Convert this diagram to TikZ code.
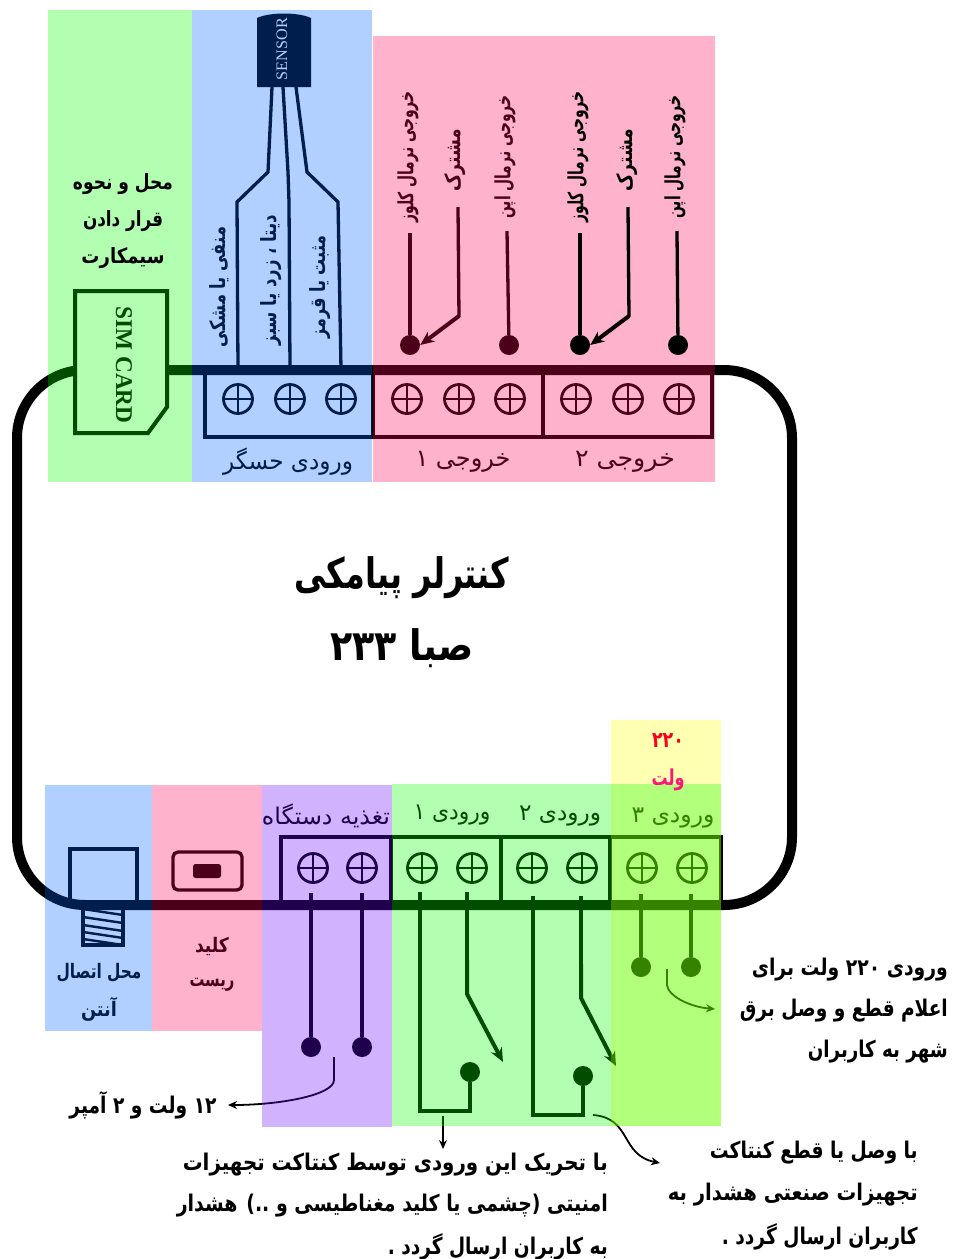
\documentclass[tikz,border=0pt]{standalone}
\usepackage{fontspec}
\usepackage{graphicx}
\usetikzlibrary{arrows.meta}
\TeXXeTstate=1
\newfontfamily\fab[Script=Arabic,BoldFont={DejaVu Sans Bold}]{DejaVu Sans}
\newfontfamily\serifb{Liberation Serif}
\newcommand{\fw}[3]{\resizebox{#1pt}{\height}{\fontsize{#2}{#2}\selectfont\fab\bfseries #3}}
\newcommand{\fr}[3]{\resizebox{#1pt}{\height}{\fontsize{#2}{#2}\selectfont\fab #3}}
\definecolor{ovgreen}{RGB}{0,255,0}
\definecolor{ovblue}{RGB}{0,100,255}
\definecolor{ovpink}{RGB}{255,0,87}
\definecolor{ovpurple}{RGB}{100,0,255}
\definecolor{ovyellow}{RGB}{255,255,0}
\tikzset{
  screw/.style={circle,draw,line width=2.8pt,minimum size=29pt,inner sep=0pt,
    path picture={\draw[line width=2.8pt] (path picture bounding box.north)--(path picture bounding box.south)
      (path picture bounding box.west)--(path picture bounding box.east);}},
  dotn/.style={circle,fill=black,minimum size=20pt,inner sep=0pt},
  wire/.style={line width=3.3pt},
  thick wire/.style={line width=4pt},
  block/.style={draw,line width=3.6pt},
  lab/.style={inner sep=0pt},
  pan/.style={fill opacity=0.3,draw=none},
  tip/.style={-{Stealth[length=14pt,width=12pt]},line width=4pt},
  note/.style={-{Stealth[length=9pt,width=8pt]},line width=1.8pt}
}
\begin{document}
\begin{tikzpicture}[x=1pt,y=-1pt]
\useasboundingbox (0,0) rectangle (954,1259);
\fill[white] (0,0) rectangle (954,1259);
% controller body
\draw[line width=10pt,rounded corners=68pt] (17,370) rectangle (792,905);
% SIM card
\draw[line width=4pt,draw=black,fill=white] (75,291) -- (167,291) -- (167,407) -- (148,433) -- (75,433) -- cycle;
\node[lab,rotate=-90,font=\serifb\bfseries\fontsize{24}{24}\selectfont] (simlbl) at (124,365) {\resizebox{117pt}{\height}{SIM CARD}};
% sensor
\fill (257,87) -- (257,18) .. controls (270,12) and (298,12) .. (311,18) -- (311,87) -- cycle;
\node[lab,rotate=90,white,font=\serifb\fontsize{16}{16}\selectfont] (senlbl) at (282,49) {\resizebox{62pt}{\height}{SENSOR}};
\coordinate (sa) at (272,87); \coordinate (sb) at (283,87); \coordinate (sc) at (296,87);
% terminal blocks
\draw[block] (205,370) rectangle (373,437);
\draw[block] (373,370) rectangle (543,437);
\draw[block] (543,370) rectangle (712,437);
\draw[block] (281,837) rectangle (391,905);
\draw[block] (391,837) rectangle (501,905);
\draw[block] (501,837) rectangle (610,905);
\draw[block] (610,837) rectangle (721,905);
% screws
\foreach \n/\x in {sn1/238,sn2/290,sn3/341,oa1/407,oa2/459,oa3/510,ob1/576,ob2/628,ob3/679}
  \node[screw] (\n) at (\x,399) {};
\foreach \n/\x in {p1/313,p2/362,ia1/422,ia2/472,ib1/532,ib2/582,ic1/642,ic2/692}
  \node[screw] (\n) at (\x,868) {};
% sensor wires
\coordinate (ta) at (238,369); \coordinate (tb) at (290,369); \coordinate (tc) at (341,369);
\draw[wire] (sa) -- (268,172) -- (237,202) -- (ta);
\draw[wire] (sb) -- (288,172) -- (289,202) -- (tb);
\draw[wire] (sc) -- (307,172) -- (338,202) -- (tc);
% output 1 dots and wires
\foreach \n/\x in {da1/410,da3/509}
  \node[dotn] (\n) at (\x,345) {};
\coordinate (ea1) at (410,233); \coordinate (ea3) at (507,231);
\draw[wire] (ea1) -- (da1); \draw[wire] (ea3) -- (da3);
\coordinate (ca) at (458,207);
\draw[wire] (ca) -- (459,317);
\draw[tip] (459,316) -- (da1.east);
% antenna
\draw[line width=3.3pt] (70,905) -- (70,849) -- (137,849) -- (137,905);
\draw[line width=3.3pt] (83,905) rectangle (123,945);
\foreach \y in {909,917,925,932,939} \draw[line width=2.4pt] (83,\y) -- (123,\y+6);
% reset key
\draw[line width=3.3pt,rounded corners=5pt] (173,852) rectangle (242,890);
\fill[rounded corners=2.5pt] (193,864) rectangle (221,878);
% power wires
\node[dotn] (dp1) at (311,1047) {};
\node[dotn] (dp2) at (362,1047) {};
\coordinate (tp1) at (311,893); \coordinate (tp2) at (362,893);
\draw[thick wire] (tp1) -- (dp1);
\draw[thick wire] (tp2) -- (dp2);
% input 1
\node[dotn] (di1) at (470,1072) {};
\coordinate (ti1) at (420,892); \coordinate (ti2) at (467,892); \coordinate (ar1) at (503,1062);
\draw[wire] (ti1) -- (420,1111) -- (470,1111) -- (di1);
\draw[wire] (ti2) -- (467,962);
\draw[tip] (467,960) -- (467,994) -- (ar1);
% input 2
\node[dotn] (di2) at (583,1076) {};
\coordinate (tj1) at (533,896); \coordinate (tj2) at (581,896); \coordinate (ar2) at (616,1066);
\draw[wire] (tj1) -- (533,1115) -- (583,1115) -- (di2);
\draw[wire] (tj2) -- (581,966);
\draw[tip] (581,964) -- (581,998) -- (ar2);
% input 3
\node[dotn] (dk1) at (641,967) {};
\node[dotn] (dk2) at (691,967) {};
\coordinate (tk1) at (641,894); \coordinate (tk2) at (691,894);
\draw[thick wire] (tk1) -- (dk1);
\draw[thick wire] (tk2) -- (dk2);
% callouts
\coordinate (n1a) at (334,1057); \coordinate (n1b) at (228,1105);
\draw[note] (n1a) -- (334,1080) .. controls (334,1095) and (280,1105) .. (n1b);
\coordinate (n2a) at (667,969); \coordinate (n2b) at (715,1009);
\draw[note] (n2a) -- (667,985) .. controls (668,996) and (690,1007) .. (n2b);
\coordinate (n3a) at (443,1116); \coordinate (n3b) at (443,1149);
\draw[note] (n3a) -- (n3b);
\coordinate (n4a) at (593,1115); \coordinate (n4b) at (660,1163);
\draw[note] (n4a) .. controls (632,1118) and (620,1155) .. (n4b);
% rotated labels
\node[lab,rotate=90] (l1) at (219,287) {\fw{120}{21}{\beginR منفی یا مشکی\endR}};
\node[lab,rotate=90] (l2) at (271,280) {\fw{130}{21}{\beginR دیتا ، زرد یا سبز\endR}};
\node[lab,rotate=90] (l3) at (320,287) {\fw{103}{21}{\beginR مثبت یا قرمز\endR}};
\node[lab,rotate=90] (l4) at (408,157) {\fw{131}{21}{\beginR خروجی نرمال کلوز\endR}};
\node[lab,rotate=90] (l5) at (455,160) {\fw{63}{21}{\beginR مشترک\endR}};
\node[lab,rotate=90] (l6) at (505,157) {\fw{123}{21}{\beginR خروجی نرمال اپن\endR}};
% horizontal labels
\node[lab] (t4) at (288,462) {\fr{130}{24}{\beginR ورودی حسگر\endR}};
\node[lab] (t5) at (463,462) {\fr{95}{24}{\beginR خروجی ۱\endR}};
\node[lab] (t6) at (625,462) {\fr{100}{24}{\beginR خروجی ۲\endR}};
\node[lab] (t7) at (402,578) {\fw{215}{42}{\beginR کنترلر پیامکی\endR}};
\node[lab] (t8) at (402,648) {\fw{143}{42}{\beginR صبا ۲۳۳\endR}};
\node[lab] (t9) at (99,973) {\fw{85}{20}{\beginR محل اتصال\endR}};
\node[lab] (t10) at (99,1009) {\fw{36}{20}{\beginR آنتن\endR}};
\node[lab] (t11) at (212,947) {\fw{34}{20}{\beginR کلید\endR}};
\node[lab] (t12) at (212,985) {\fw{45}{20}{\beginR ریست\endR}};
\node[lab] (t13) at (326,816) {\fr{128}{23}{\beginR تغذیه دستگاه\endR}};
\node[lab] (t14) at (452,815) {\fr{77}{23}{\beginR ورودی ۱\endR}};
\node[lab] (t15) at (560,816) {\fr{82}{23}{\beginR ورودی ۲\endR}};
\node[lab] (t16) at (673,818) {\fr{83}{23}{\beginR ورودی ۳\endR}};
\node[lab] (t17) at (143,1105) {\fw{147}{23}{\beginR ۱۲ ولت و ۲ آمپر\endR}};
\node[lab,anchor=east] (r1) at (948,970) {\fw{196}{23}{\beginR ورودی ۲۲۰ ولت برای\endR}};
\node[lab,anchor=east] (r2) at (948,1011) {\fw{208}{23}{\beginR اعلام قطع  و وصل برق\endR}};
\node[lab,anchor=east] (r3) at (948,1052) {\fw{140}{23}{\beginR شهر به کاربران\endR}};
\node[lab,anchor=east] (m1) at (918,1153) {\fw{208}{23}{\beginR با وصل یا قطع کنتاکت\endR}};
\node[lab,anchor=east] (m2) at (918,1195) {\fw{250}{23}{\beginR تجهیزات صنعتی هشدار به\endR}};
\node[lab,anchor=east] (m3) at (918,1237) {\fw{196}{23}{\beginR کاربران ارسال گردد .\endR}};
\node[lab,anchor=east] (b1) at (608,1165) {\fw{425}{23}{\beginR با تحریک این ورودی توسط کنتاکت تجهیزات\endR}};
\node[lab,anchor=east] (b2) at (608,1206) {\fw{431}{23}{\beginR امنیتی (چشمی یا کلید مغناطیسی و ..) هشدار\endR}};
\node[lab,anchor=east] (b3) at (608,1247) {\fw{220}{23}{\beginR به کاربران ارسال گردد .\endR}};
% translucent panels
\fill[ovgreen,pan] (48,10) rectangle (192,482);
\fill[ovblue,pan] (192,10) rectangle (372,482);
\fill[ovpink,pan] (373,36) rectangle (715,482);
\fill[ovblue,pan] (45,785) rectangle (152,1031);
\fill[ovpink,pan] (152,785) rectangle (262,1031);
\fill[ovpurple,pan] (262,785) rectangle (392,1127);
\fill[ovyellow,pan] (611,720) rectangle (721,1126);
\fill[ovgreen,pan] (392,784) rectangle (721,1126);
% items above the panels: black
\node[lab] (t1) at (123,184) {\fw{100}{21}{\beginR محل و نحوه\endR}};
\node[lab] (t2) at (123,221) {\fw{80}{21}{\beginR قرار دادن\endR}};
\node[lab] (t3) at (123,258) {\fw{83}{21}{\beginR سیمکارت\endR}};
\foreach \n/\x in {db1/580,db3/678}
  \node[dotn] (\n) at (\x,345) {};
\coordinate (eb1) at (580,233); \coordinate (eb3) at (677,231);
\draw[wire] (eb1) -- (db1); \draw[wire] (eb3) -- (db3);
\coordinate (cb) at (628,207);
\draw[wire] (cb) -- (629,317);
\draw[tip] (629,316) -- (db1.east);
\node[lab,rotate=90] (l7) at (578,157) {\fw{131}{21}{\beginR خروجی نرمال کلوز\endR}};
\node[lab,rotate=90] (l8) at (627,160) {\fw{63}{21}{\beginR مشترک\endR}};
\node[lab,rotate=90] (l9) at (675,157) {\fw{123}{21}{\beginR خروجی نرمال اپن\endR}};
% 220 volt
\node[lab,text={rgb,255:red,250;green,0;blue,30}] (v1) at (668,741) {\fw{32}{22}{\beginR ۲۲۰\endR}};
\node[lab,text={rgb,255:red,255;green,20;blue,120}] (v2) at (668,780) {\fw{33}{22}{\beginR ولت\endR}};
\end{tikzpicture}
\end{document}
